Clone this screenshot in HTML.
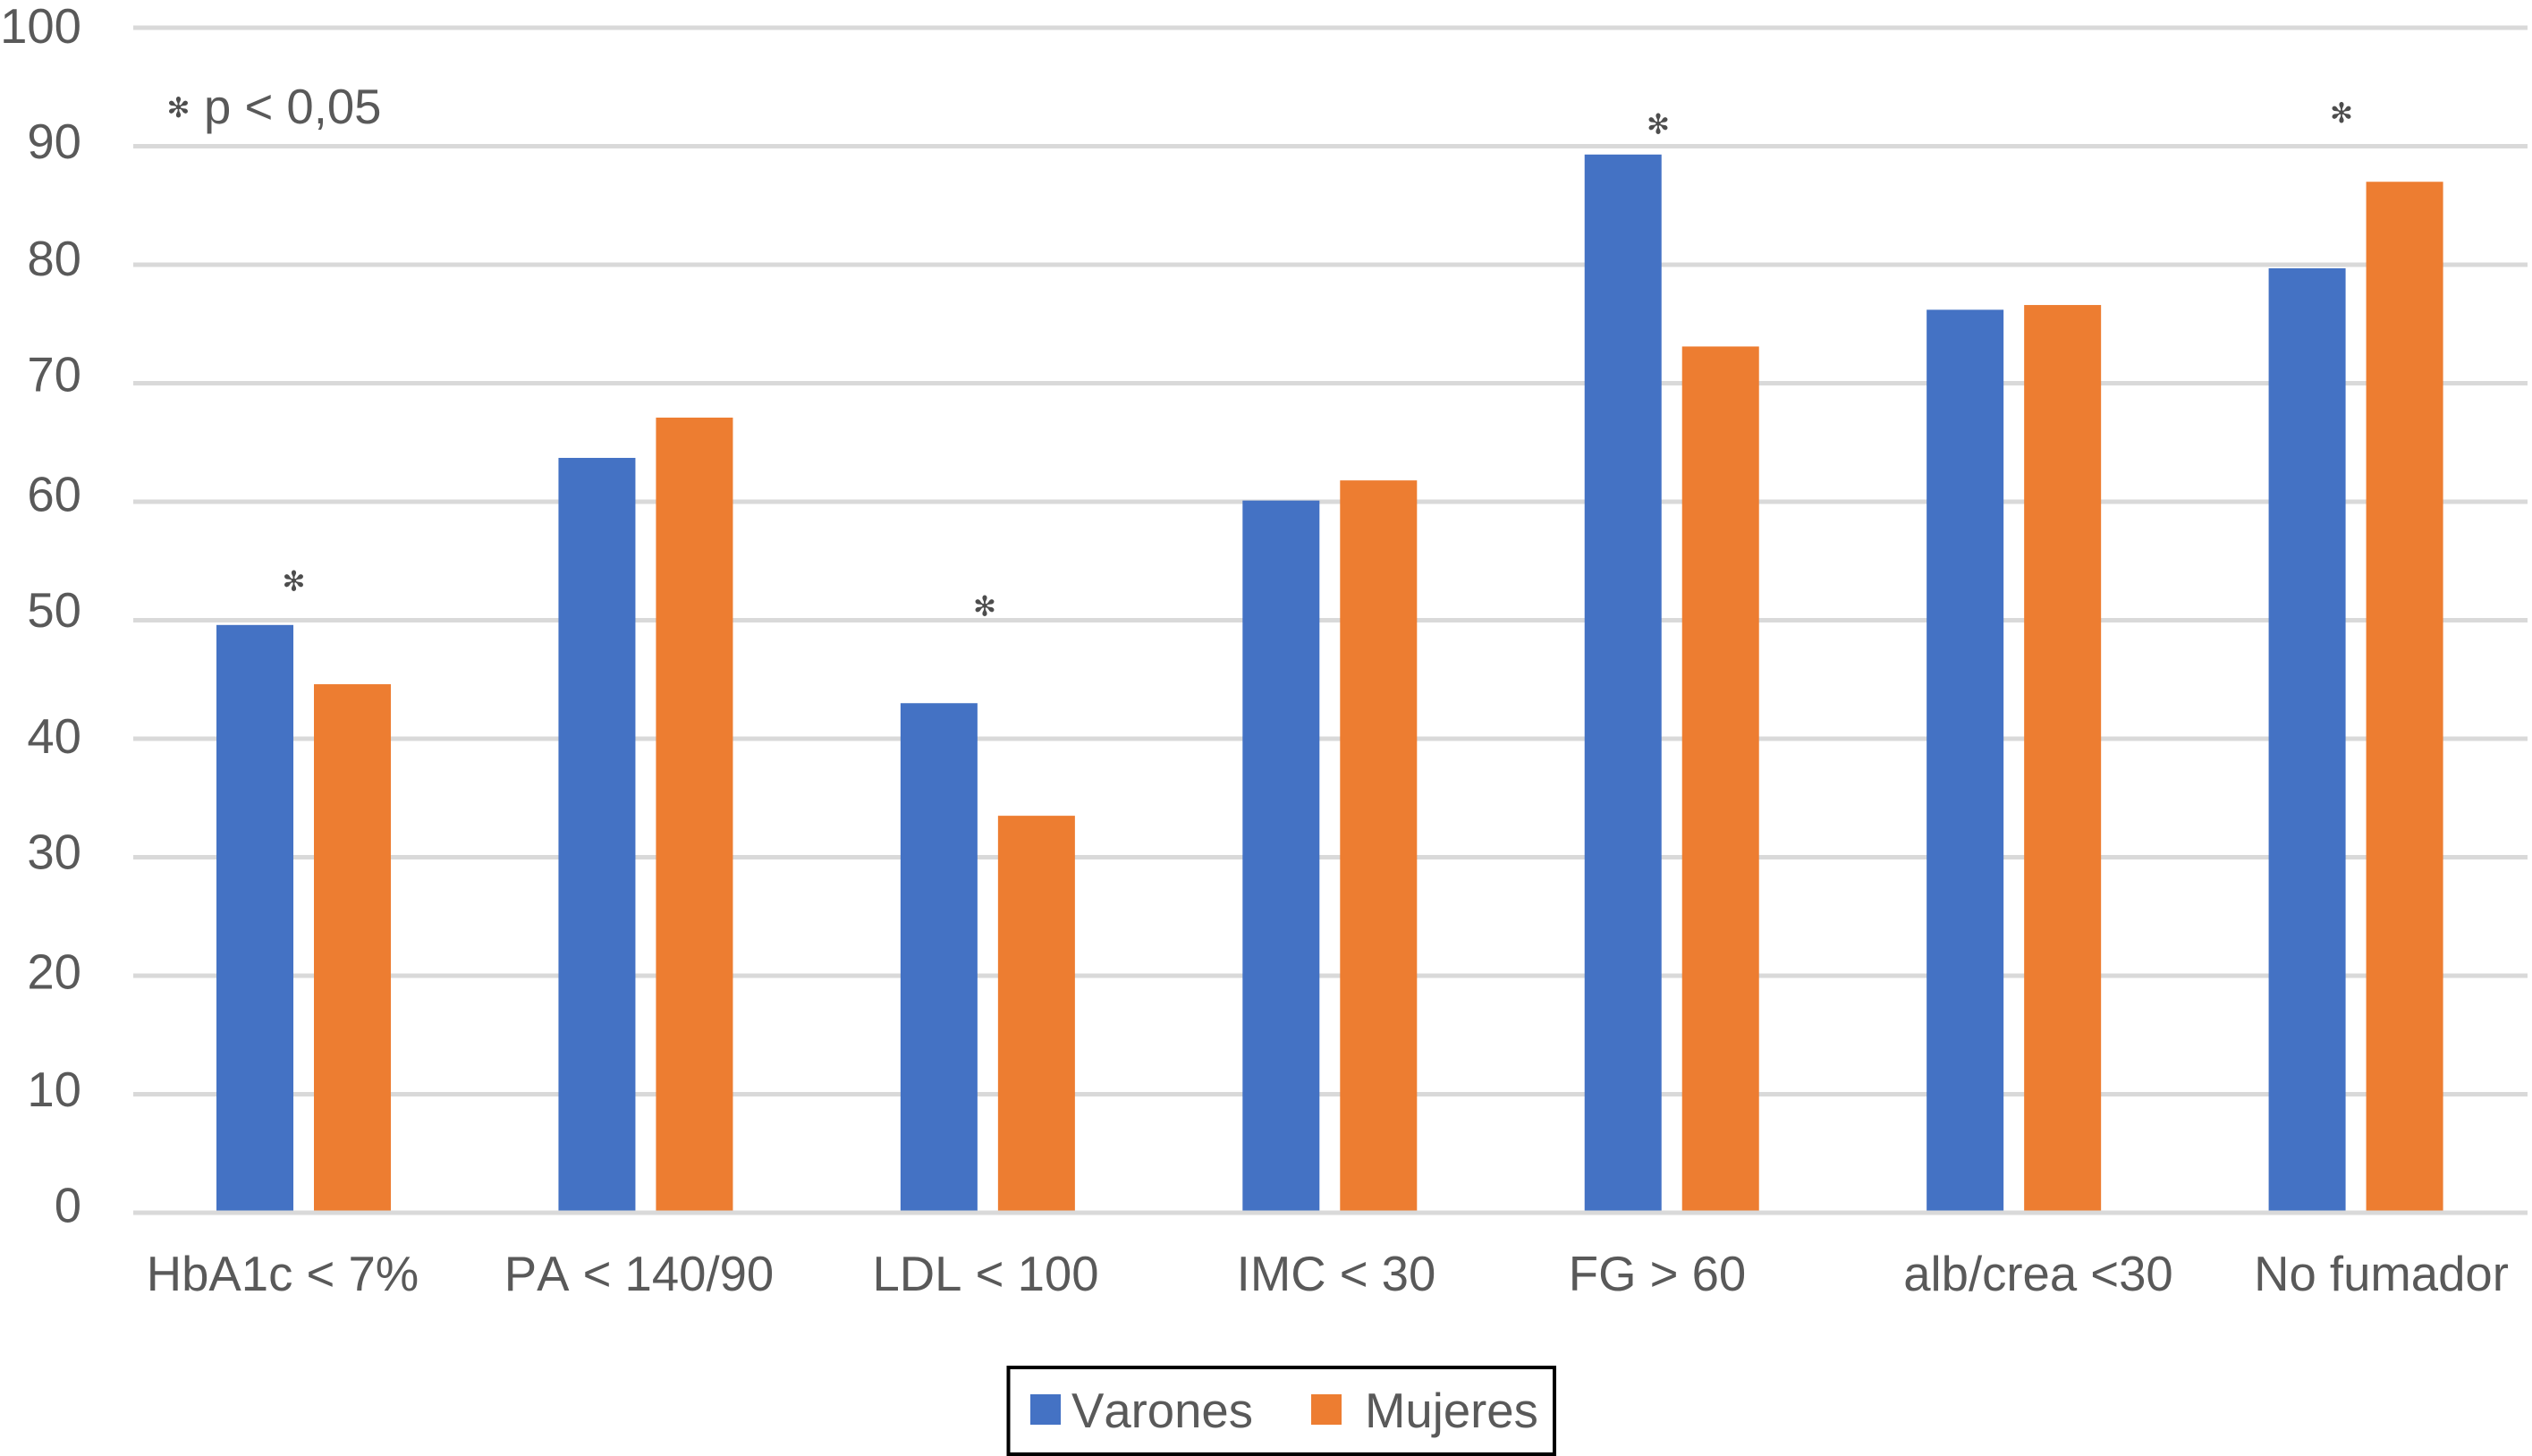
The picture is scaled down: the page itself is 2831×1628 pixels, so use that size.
<!DOCTYPE html>
<html lang="es">
<head>
<meta charset="utf-8">
<title>Objetivos de control por sexo</title>
<style>
  html, body { margin: 0; padding: 0; background: #fff; }
  #chart { display: block; }
  text { font-family: "Liberation Sans", Arial, sans-serif; font-size: 54.5px; fill: #595959; font-kerning: none; }
  .star { font-family: "DejaVu Sans", "Liberation Sans", sans-serif; font-size: 31px; fill: #4d4d4d; text-anchor: middle; }
  .cat { text-anchor: middle; }
  .ytick { text-anchor: end; }
</style>
</head>
<body>
<svg id="chart" width="2831" height="1628" viewBox="0 0 2831 1628" xmlns="http://www.w3.org/2000/svg">
  <rect x="0" y="0" width="2831" height="1628" fill="#ffffff"/>
  <g id="grid"></g>
  <g>
    <text class="ytick" x="91" y="48">100</text>
    <text class="ytick" x="91" y="177">90</text>
    <text class="ytick" x="91" y="308">80</text>
    <text class="ytick" x="91" y="437.5">70</text>
    <text class="ytick" x="91" y="571.5">60</text>
    <text class="ytick" x="91" y="701">50</text>
    <text class="ytick" x="91" y="842">40</text>
    <text class="ytick" x="91" y="971.5">30</text>
    <text class="ytick" x="91" y="1105.5">20</text>
    <text class="ytick" x="91" y="1237">10</text>
    <text class="ytick" x="91" y="1366.5">0</text>
  </g>
  <g id="bars"></g>
  <g id="baseline"></g>

  <g>
    <text class="cat" x="316" y="1443">HbA1c &lt; 7%</text>
    <text class="cat" x="714.5" y="1443">PA &lt; 140/90</text>
    <text class="cat" x="1102" y="1443">LDL &lt; 100</text>
    <text class="cat" x="1494" y="1443">IMC &lt; 30</text>
    <text class="cat" x="1853" y="1443">FG &gt; 60</text>
    <text class="cat" x="2279" y="1443">alb/crea &lt;30</text>
    <text class="cat" x="2662.5" y="1443">No fumador</text>
  </g>

  <g>
    <text class="star" x="199.5" y="131">✻</text>
    <text x="228" y="138">p &lt; 0,05</text>
  </g>
  <g>
    <text class="star" x="328.5" y="660.5">✻</text>
    <text class="star" x="1101" y="688.5">✻</text>
    <text class="star" x="1854" y="149.5">✻</text>
    <text class="star" x="2618" y="137">✻</text>
  </g>

  <g>
    <rect x="1127.5" y="1529" width="610.5" height="97" fill="#ffffff" stroke="#000000" stroke-width="4"/>
    <rect x="1152" y="1559" width="34" height="34" fill="#4472C4"/>
    <text x="1198" y="1596">Varones</text>
    <rect x="1466" y="1559" width="34" height="34" fill="#ED7D31"/>
    <text x="1526" y="1596">Mujeres</text>
  </g>
</svg>
<script>
const categories = ["HbA1c < 7%", "PA < 140/90", "LDL < 100", "IMC < 30", "FG > 60", "alb/crea <30", "No fumador"];
const varones = [49.6, 63.7, 43.0, 60.1, 89.3, 76.2, 79.7];
const mujeres = [44.6, 67.1, 33.5, 61.8, 73.1, 76.6, 87.0];
const yTicks = [0, 10, 20, 30, 40, 50, 60, 70, 80, 90, 100];

const NS = "http://www.w3.org/2000/svg";
const plotLeft = 149, plotRight = 2826, plotTop = 31, plotBottom = 1356;
const barWidth = 86, barGap = 23, gridWidth = 5, groupShift = -0.7;

function yScale(v) { return plotBottom - (v / 100) * (plotBottom - plotTop); }
function bandCenter(i) { return plotLeft + (i + 0.5) * (plotRight - plotLeft) / categories.length + groupShift; }
function make(tag, attrs) {
  const el = document.createElementNS(NS, tag);
  for (const k in attrs) el.setAttribute(k, attrs[k]);
  return el;
}
function slug(s) { return s.toLowerCase().replace(/[^a-z0-9]+/g, "-").replace(/^-|-$/g, ""); }

const gridG = document.getElementById("grid");
yTicks.forEach(function (t) {
  if (t === 0) return;
  const line = make("rect", { x: plotLeft, y: yScale(t) - gridWidth / 2, width: plotRight - plotLeft, height: gridWidth, fill: "#d9d9d9" });
  
  
  gridG.appendChild(line);
});

const barsG = document.getElementById("bars");
function addBar(value, x, color, seriesName, category) {
  const top = yScale(value);
  const bar = make("rect", { x: x, y: top, width: barWidth, height: plotBottom - top, fill: color });
  
  
  barsG.appendChild(bar);
}
categories.forEach(function (c, i) {
  const center = bandCenter(i);
  addBar(varones[i], center - barGap / 2 - barWidth, "#4472C4", "varones", c);
  addBar(mujeres[i], center + barGap / 2, "#ED7D31", "mujeres", c);
});

const axisLine = make("rect", { x: plotLeft, y: yScale(0) - gridWidth / 2, width: plotRight - plotLeft, height: gridWidth, fill: "#d9d9d9" });


document.getElementById("baseline").appendChild(axisLine);
</script>
</body>
</html>
